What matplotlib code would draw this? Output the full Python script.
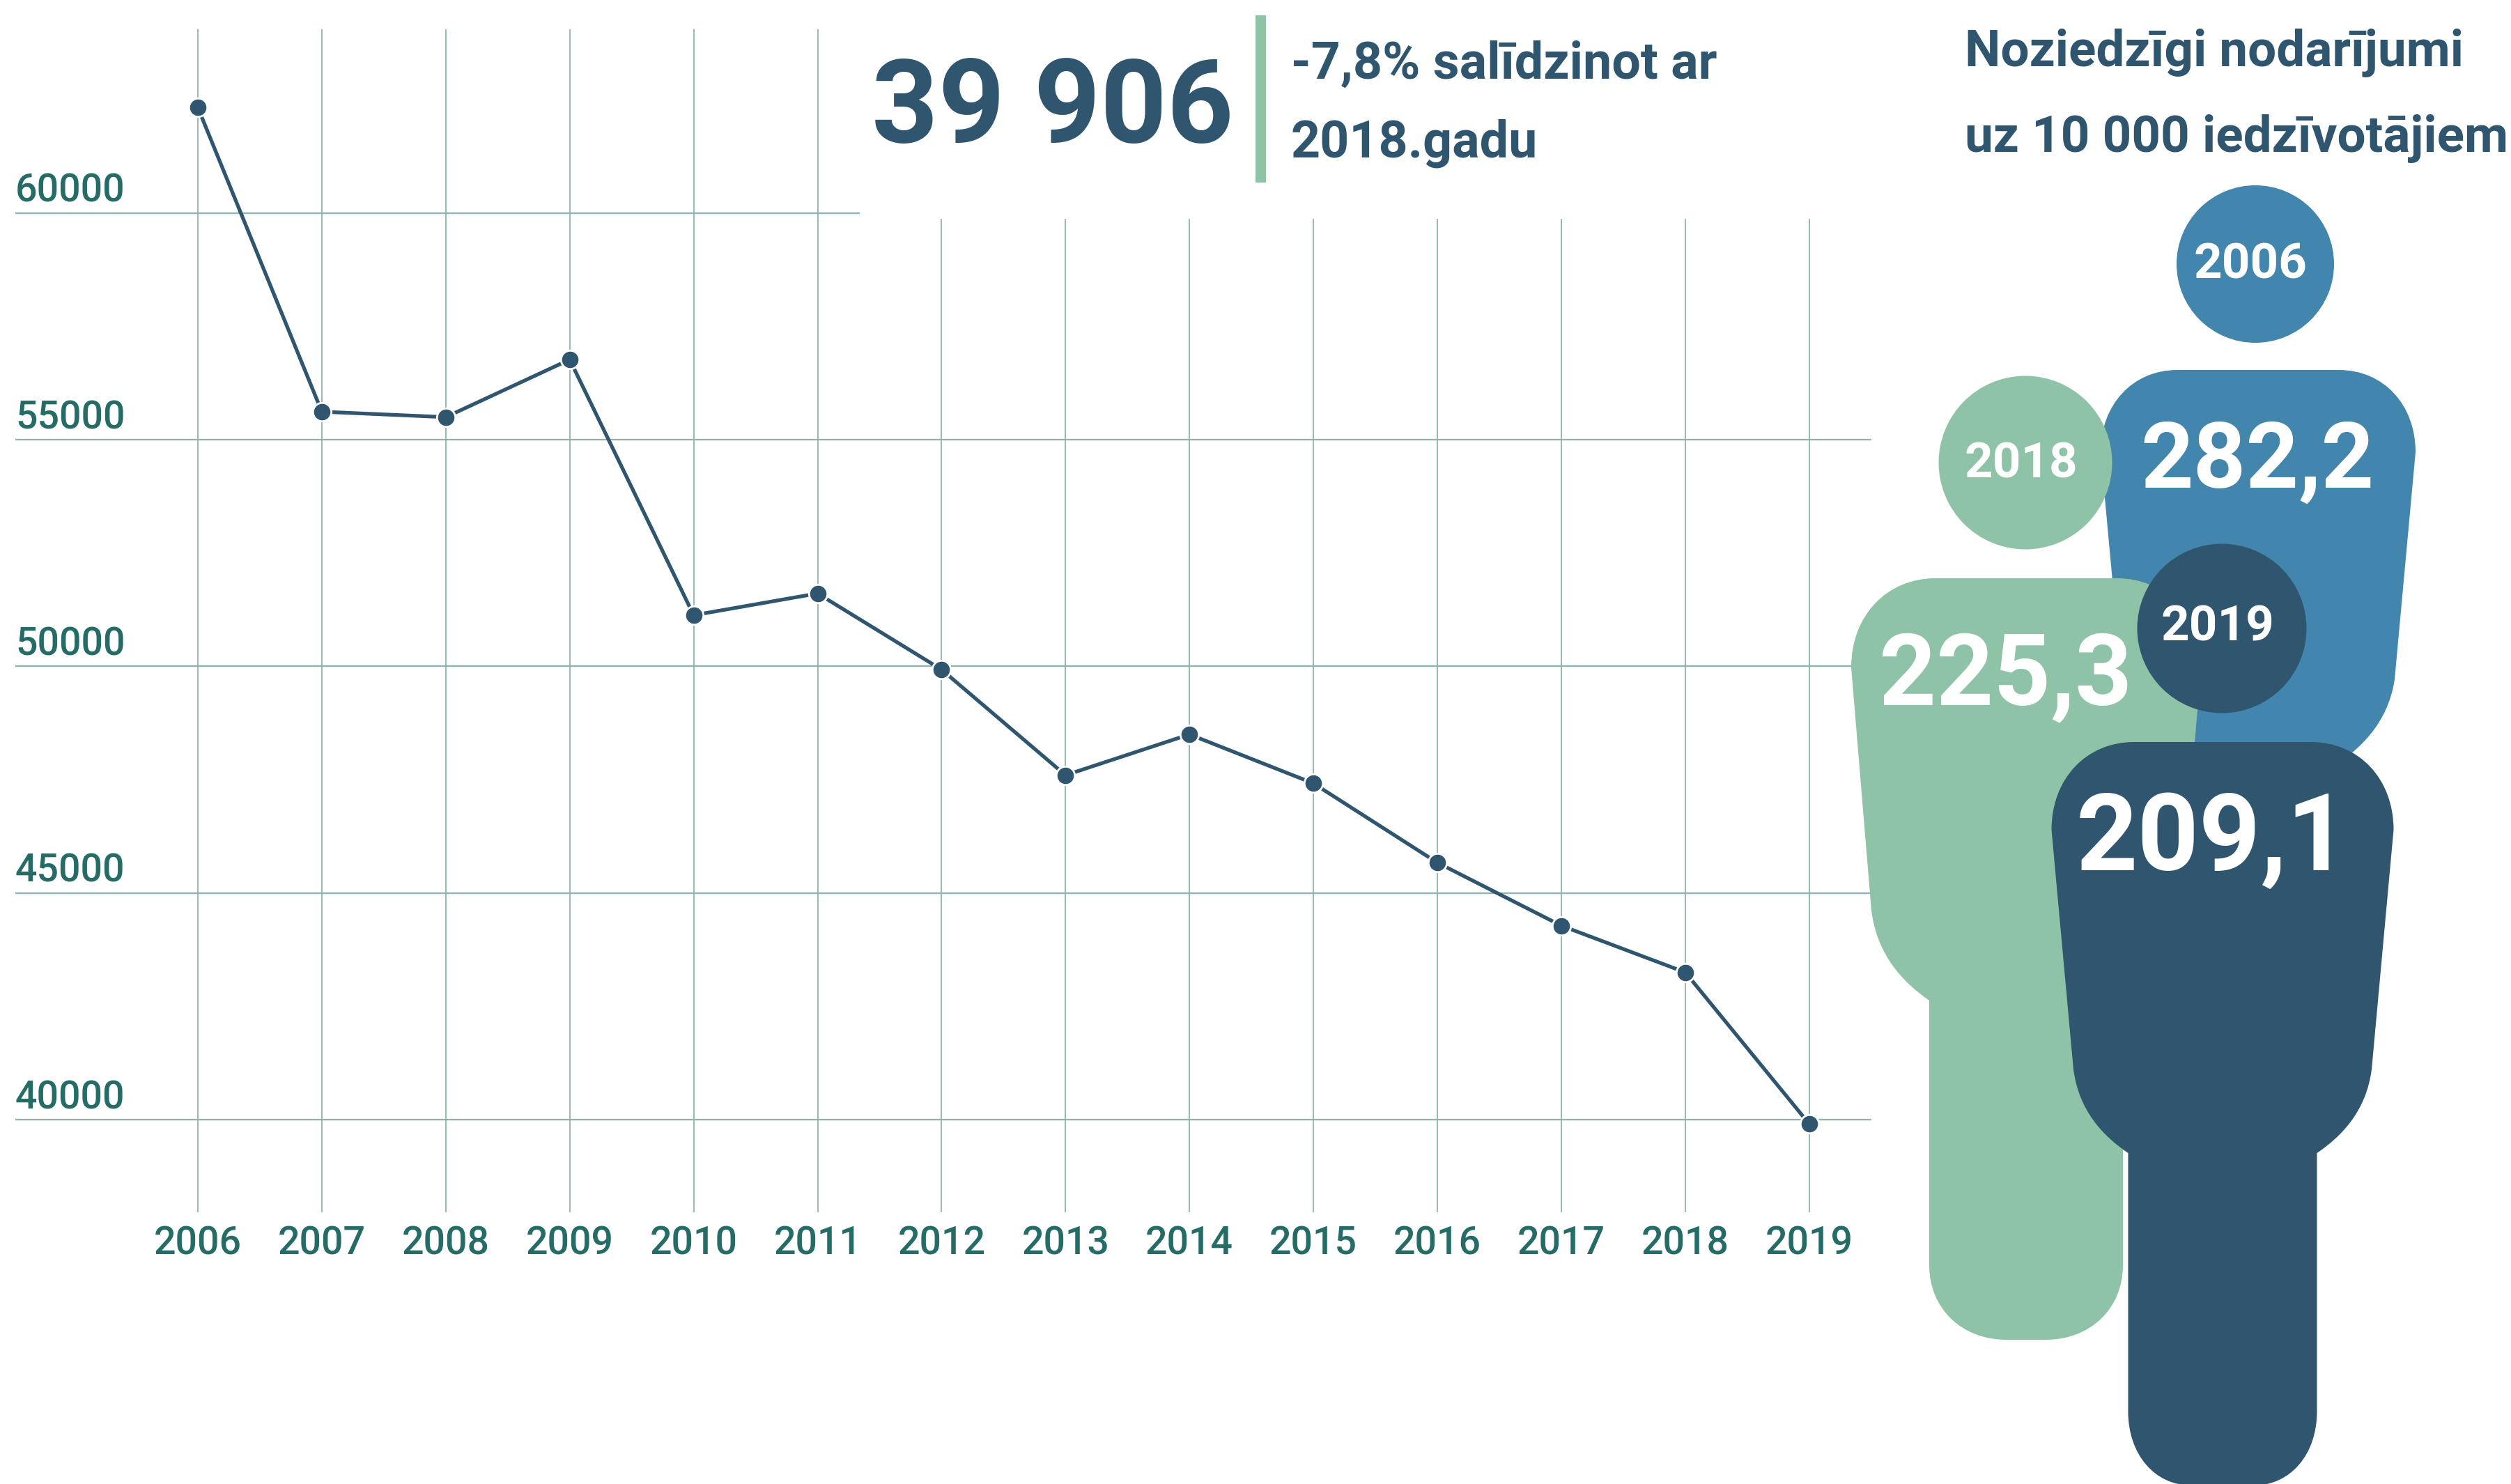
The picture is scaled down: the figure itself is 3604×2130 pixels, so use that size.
import matplotlib
matplotlib.use("Agg")
import matplotlib.pyplot as plt
from matplotlib.patches import Circle, PathPatch, Rectangle
from matplotlib.path import Path
from matplotlib.transforms import ScaledTranslation

plt.rcParams['font.family'] = ['Roboto', 'DejaVu Sans']

years = list(range(2006, 2020))
crimes = [62330, 55620, 55500, 56770, 51130, 51610, 49930, 47600, 48500, 47420,
          45670, 44280, 43250, 39906]
y_ticks = [40000, 45000, 50000, 55000, 60000]
rate_labels = ['282,2', '225,3', '209,1']
rate_years = ['2006', '2018', '2019']

DARK = '#2F566E'
TEAL = '#256B66'
GRID = '#8FB3AE'
GREEN = '#8FC3A8'
BLUE = '#4386AD'

W, H = 3605, 2130
fig = plt.figure(figsize=(W / 100, H / 100), dpi=100, facecolor='white')

# chart axes: box in pixels, limits worked out so the years and values land on the grid
left, right, top, bottom = 22, 2686, 42, 1740
x_step = 177.9
y_step = 0.06505
ax = fig.add_axes([left / W, 1 - bottom / H, (right - left) / W, (bottom - top) / H])
ax.set_xlim(2006 - (284 - left) / x_step, 2006 + (right - 284) / x_step)
ax.set_ylim(40000 - (bottom - 1607) / y_step, 60000 + (306 - top) / y_step)
ax.patch.set_alpha(0)
for s in ax.spines.values():
    s.set_visible(False)

# years after 2011 stop below the headline block, and so does the 60000 line
for yr in years:
    ax.axvline(yr, ymin=0, ymax=1 if yr <= 2011 else (bottom - 315) / (bottom - top),
               color=GRID, lw=1.3, zorder=1)
for v in y_ticks:
    ax.axhline(v, xmin=0, xmax=(1233 - left) / (right - left) if v == 60000 else 1,
               color=GRID, lw=1.7, zorder=1)

ax.plot(years, crimes, color=DARK, lw=3.8, marker='o', ms=19, mfc=DARK, mec='white',
        mew=2, zorder=3, clip_on=False)

ax.set_xticks(years)
ax.set_xticklabels([str(y) for y in years])
ax.set_yticks(y_ticks)
ax.set_yticklabels([str(v) for v in y_ticks])
ax.tick_params(axis='x', length=0, pad=13, labelsize=40, labelcolor=TEAL)
ax.tick_params(axis='y', length=0, pad=0, labelsize=40, labelcolor=TEAL)
for lab in ax.get_xticklabels():
    lab.set_fontweight('medium')
up = ScaledTranslation(0, 16 / 100, fig.dpi_scale_trans)
for lab in ax.get_yticklabels():
    lab.set_fontweight('medium')
    lab.set_horizontalalignment('left')
    lab.set_verticalalignment('baseline')
    lab.set_transform(lab.get_transform() + up)

# overlay in pixel coordinates for the figures and the headline
ov = fig.add_axes([0, 0, 1, 1])
ov.set_xlim(0, W)
ov.set_ylim(H, 0)
ov.axis('off')
ov.patch.set_alpha(0)


def person(cx, ytop, flat, hw, yw, waist, ywaist, stem, yjoin, ystem, ybottom, bflat):
    k = 0.58
    right_side = [
        (Path.LINETO, (cx + flat, ytop)),
        (Path.CURVE4, (cx + flat + k * (hw - flat), ytop)),
        (Path.CURVE4, (cx + hw, yw - k * (yw - ytop))),
        (Path.CURVE4, (cx + hw, yw)),
        (Path.LINETO, (cx + waist, ywaist)),
        (Path.CURVE4, (cx + waist - 0.1 * (waist - stem), ywaist + 0.5 * (yjoin - ywaist))),
        (Path.CURVE4, (cx + stem + 0.45 * (waist - stem), yjoin - 0.2 * (yjoin - ywaist))),
        (Path.CURVE4, (cx + stem, yjoin)),
        (Path.LINETO, (cx + stem, ystem)),
        (Path.CURVE4, (cx + stem, ystem + k * (ybottom - ystem))),
        (Path.CURVE4, (cx + bflat + k * (stem - bflat), ybottom)),
        (Path.CURVE4, (cx + bflat, ybottom)),
    ]
    left_side = [
        (Path.LINETO, (cx - bflat, ybottom)),
        (Path.CURVE4, (cx - bflat - k * (stem - bflat), ybottom)),
        (Path.CURVE4, (cx - stem, ystem + k * (ybottom - ystem))),
        (Path.CURVE4, (cx - stem, ystem)),
        (Path.LINETO, (cx - stem, yjoin)),
        (Path.CURVE4, (cx - stem - 0.45 * (waist - stem), yjoin - 0.2 * (yjoin - ywaist))),
        (Path.CURVE4, (cx - waist + 0.1 * (waist - stem), ywaist + 0.5 * (yjoin - ywaist))),
        (Path.CURVE4, (cx - waist, ywaist)),
        (Path.LINETO, (cx - hw, yw)),
        (Path.CURVE4, (cx - hw, yw - k * (yw - ytop))),
        (Path.CURVE4, (cx - flat - k * (hw - flat), ytop)),
        (Path.CURVE4, (cx - flat, ytop)),
    ]
    segs = right_side + left_side
    verts = [(cx - flat, ytop)] + [p for _, p in segs] + [(cx - flat, ytop)]
    codes = [Path.MOVETO] + [c for c, _ in segs] + [Path.CLOSEPOLY]
    return Path(verts, codes)


# blue stands behind the others, its legs are hidden
ov.add_patch(PathPatch(person(3241, 531, 116, 226, 649, 196, 975, 100, 1105, 1105, 1106, 60),
                       fc=BLUE, ec='none', zorder=1))
ov.add_patch(Circle((3237, 379), 113, fc=BLUE, ec='none', zorder=1))
ov.add_patch(PathPatch(person(2908, 830, 130, 251, 958, 222, 1307, 139, 1436, 1816, 1923, 28),
                       fc=GREEN, ec='none', zorder=2))
ov.add_patch(Circle((2907, 664), 124.5, fc=GREEN, ec='none', zorder=2))
ov.add_patch(PathPatch(person(3190, 1065, 127, 245.5, 1191, 214, 1535, 135.5, 1655, 2026, 2132, 45),
                       fc=DARK, ec='none', zorder=3))
ov.add_patch(Circle((3189, 902), 121.5, fc=DARK, ec='none', zorder=3))

# person values and years
ov.text(3240, 700, rate_labels[0], color='white', fontsize=95, fontweight='bold', ha='center', va='baseline', zorder=4)
ov.text(2879, 1012, rate_labels[1], color='white', fontsize=103, fontweight='bold', ha='center', va='baseline', zorder=4)
ov.text(3175, 1249, rate_labels[2], color='white', fontsize=111, fontweight='bold', ha='center', va='baseline', zorder=4)
ov.text(3230, 400, rate_years[0], color='white', fontsize=51, fontweight='bold', ha='center', va='baseline', zorder=4)
ov.text(2901, 686, rate_years[1], color='white', fontsize=51, fontweight='bold', ha='center', va='baseline', zorder=4)
ov.text(3183, 920, rate_years[2], color='white', fontsize=51, fontweight='bold', ha='center', va='baseline', zorder=4)

# headline
ov.text(1251, 204, '39 906', color=DARK, fontsize=120, fontweight='bold', ha='left', va='baseline')
ov.add_patch(Rectangle((1802, 22), 15, 240, fc=GREEN, ec='none'))
ov.text(1853, 113, '-7,8% salīdzinot ar', color=DARK, fontsize=53, fontweight='bold', ha='left', va='baseline')
ov.text(1853, 226, '2018.gadu', color=DARK, fontsize=53, fontweight='bold', ha='left', va='baseline')
ov.text(2820, 95, 'Noziedzīgi nodarījumi', color=DARK, fontsize=52.5, fontweight='bold', ha='left', va='baseline')
ov.text(2820, 218, 'uz 10 000 iedzīvotājiem', color=DARK, fontsize=52.5, fontweight='bold', ha='left', va='baseline')

fig.savefig('out.png', dpi=100)
